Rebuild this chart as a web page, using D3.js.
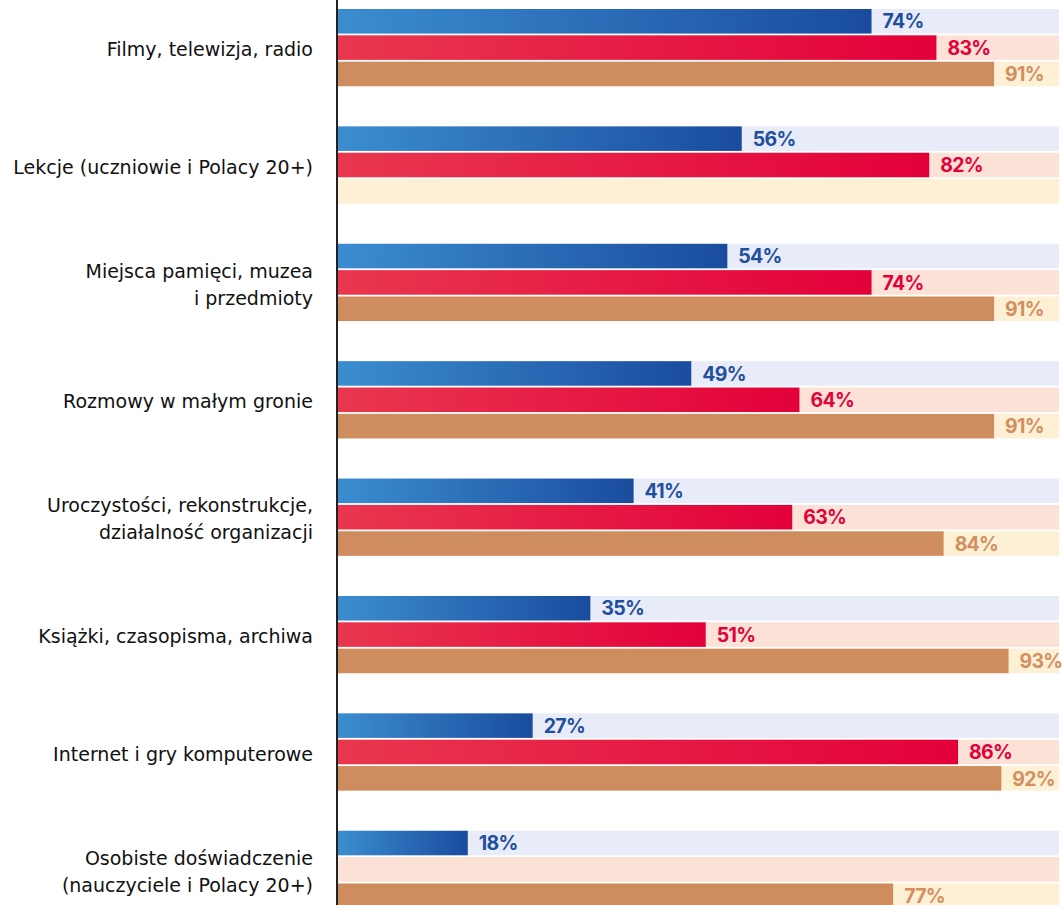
<!DOCTYPE html>
<html>
<head>
<meta charset="utf-8">
<script src="https://cdn.jsdelivr.net/npm/d3@7"></script>
<style>
  html, body { margin: 0; padding: 0; background: #fff; overflow: hidden; }
  svg { display: block; }
</style>
</head>
<body>
<svg id="chart" width="1062" height="905"></svg>
<script>
// ---- data ----
const categories = [
  ["Filmy, telewizja, radio"],
  ["Lekcje (uczniowie i Polacy 20+)"],
  ["Miejsca pamięci, muzea", "i przedmioty"],
  ["Rozmowy w małym gronie"],
  ["Uroczystości, rekonstrukcje,", "działalność organizacji"],
  ["Książki, czasopisma, archiwa"],
  ["Internet i gry komputerowe"],
  ["Osobiste doświadczenie", "(nauczyciele i Polacy 20+)"]
];
const seriesNames = ["Polacy 20+", "Uczniowie", "Nauczyciele"];
const polacy20 = [74, 56, 54, 49, 41, 35, 27, 18];
const uczniowie = [83, 82, 74, 64, 63, 51, 86, null];
const nauczyciele = [91, null, 91, 91, 84, 93, 92, 77];
const seriesValues = [polacy20, uczniowie, nauczyciele];

// ---- styles ----
const W = 1062, H = 905;
const styles = [
  { from: "#3b8dd0", to: "#1a4c9e", bg: "#e8ecf8", text: "#1f4f9f" },
  { from: "#e9374f", to: "#e3003a", bg: "#fce1d7", text: "#e3003b" },
  { from: "#cf8c5f", to: "#cf8c5f", bg: "#fdf0d5", text: "#d38f5f" }
];

const svg = d3.select("#chart");
const defs = svg.append("defs");
styles.forEach((s, i) => {
  const g = defs.append("linearGradient").attr("id", "grad" + i)
    .attr("x1", "0%").attr("x2", "100%").attr("y1", "0%").attr("y2", "0%");
  g.append("stop").attr("offset", "0%").attr("stop-color", s.from);
  g.append("stop").attr("offset", "100%").attr("stop-color", s.to);
});

const keys = categories.map((c, i) => i);
const y = d3.scaleBand().domain(keys).range([9, 908]).paddingInner(0.342).paddingOuter(0).align(0);
const yInner = d3.scaleBand().domain(d3.range(seriesNames.length)).range([0, y.bandwidth()]).paddingInner(0.07);
const x = d3.scaleLinear().domain([0, 100]).range([338, 1059]);

const groups = svg.append("g").selectAll("g.grp").data(keys).join("g")
  .attr("class", "grp")
  .attr("transform", d => `translate(0,${y(d)})`);

seriesNames.forEach((name, si) => {
  groups.append("rect")
    .attr("x", x(0)).attr("y", yInner(si))
    .attr("width", x(100) - x(0)).attr("height", yInner.bandwidth())
    .attr("fill", styles[si].bg);
  groups.filter(d => seriesValues[si][d] != null).append("rect")
    .attr("x", x(0)).attr("y", yInner(si))
    .attr("width", d => x(seriesValues[si][d]) - x(0)).attr("height", yInner.bandwidth())
    .attr("fill", `url(#grad${si})`);
  groups.filter(d => seriesValues[si][d] != null).append("text")
    .attr("x", d => x(seriesValues[si][d]) + 11)
    .attr("y", yInner(si) + yInner.bandwidth() / 2)
    .attr("dy", "0.37em")
    .attr("font-family", "Inter, 'Noto Sans', sans-serif")
    .attr("font-weight", 700)
    .attr("font-size", 19.5)
    .attr("letter-spacing", -0.7)
    .attr("fill", styles[si].text)
    .text(d => seriesValues[si][d] + "%");
});

// category labels
const lineH = 27;
groups.append("text")
  .attr("x", 313)
  .attr("text-anchor", "end")
  .attr("font-family", "'DejaVu Sans', sans-serif")
  .attr("font-size", 19)
  .attr("fill", "#111")
  .each(function(d) {
    const lines = categories[d];
    const cy = y.bandwidth() / 2 + 2;
    const t = d3.select(this);
    lines.forEach((ln, li) => {
      t.append("tspan")
        .attr("x", 313)
        .attr("y", cy + (li - (lines.length - 1) / 2) * lineH)
        .attr("dy", "0.35em")
        .text(ln);
    });
  });

// axis line
svg.append("line")
  .attr("x1", 337).attr("x2", 337).attr("y1", 0).attr("y2", H)
  .attr("stroke", "#222").attr("stroke-width", 2);
</script>
</body>
</html>
